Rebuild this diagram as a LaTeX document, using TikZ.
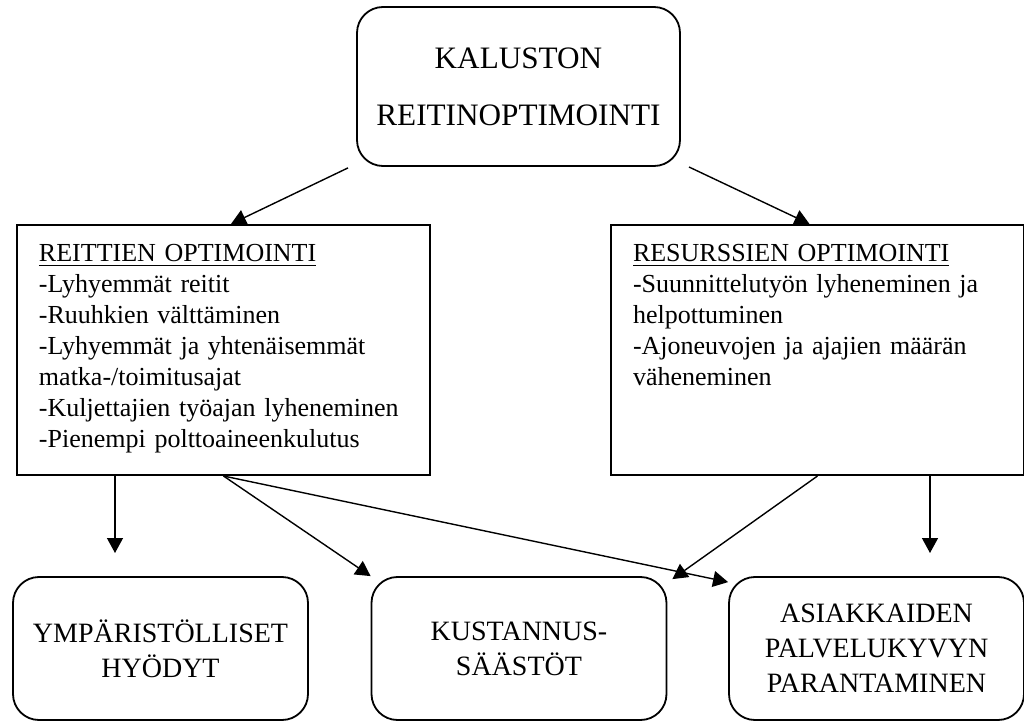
\documentclass[tikz,border=0pt]{standalone}
\usepackage{fontspec}
\setmainfont{Liberation Serif}
\usetikzlibrary{arrows.meta}

\begin{document}
\begin{tikzpicture}[->,>={Triangle[length=7.5pt,width=8pt]},x=0.5pt,y=-0.5pt,
                    line width=0.7pt,
                    roundbox/.style={draw,line width=0.9pt,rounded corners=13pt,
                      align=center,minimum width=147.5pt,minimum height=71.5pt,
                      inner sep=0pt,font=\fontsize{14}{17.5}\selectfont},
                    listbox/.style={draw,line width=1pt,anchor=north west,
                      inner xsep=11pt,inner ysep=9.5pt,text width=184.5pt,
                      align=left,text height=9pt,text depth=97pt,
                      font=\fontsize{13}{15.5}\selectfont}]

  \useasboundingbox (0,0) rectangle (1024,722);

  \node[roundbox,minimum width=161.5pt,minimum height=79.5pt,
        font=\fontsize{15.6}{28.5}\selectfont] (K) at (518.5,86.5)
        {KALUSTON\\REITINOPTIMOINTI};

  \node[listbox] (L) at (16,224)
        {\underline{REITTIEN OPTIMOINTI}\\
         -Lyhyemmät reitit\\
         -Ruuhkien välttäminen\\
         -Lyhyemmät ja yhtenäisemmät\\
         matka-/toimitusajat\\
         -Kuljettajien työajan lyheneminen\\
         -Pienempi polttoaineenkulutus};
  \node[listbox] (R) at (610,224)
        {\underline{RESURSSIEN OPTIMOINTI}\\
         -Suunnittelutyön lyheneminen ja\\
         helpottuminen\\
         -Ajoneuvojen ja ajajien määrän\\
         väheneminen};

  \node[roundbox] (Y) at (160.5,648.5) {YMPÄRISTÖLLISET\\HYÖDYT};
  \node[roundbox] (S) at (519,648.5)   {KUSTANNUS-\\SÄÄSTÖT};
  \node[roundbox] (P) at (876.5,648.5) {ASIAKKAIDEN\\PALVELUKYVYN\\PARANTAMINEN};

  \coordinate (yEnd) at (115,553);
  \coordinate (pEnd) at (930,553);

  \path (K) edge [shorten <=4.5pt] ([xshift=3.75pt]L.north)
            edge [shorten <=4.5pt] ([xshift=-4pt]R.north)
        (L.south -| yEnd) edge (yEnd)
        (L.south) edge (S.north west)
                  edge ([yshift=-3pt]P.north west)
        (R.south) edge ([xshift=2.5pt,yshift=-1.5pt]S.north east)
        (R.south -| pEnd) edge (pEnd);
\end{tikzpicture}
\end{document}
